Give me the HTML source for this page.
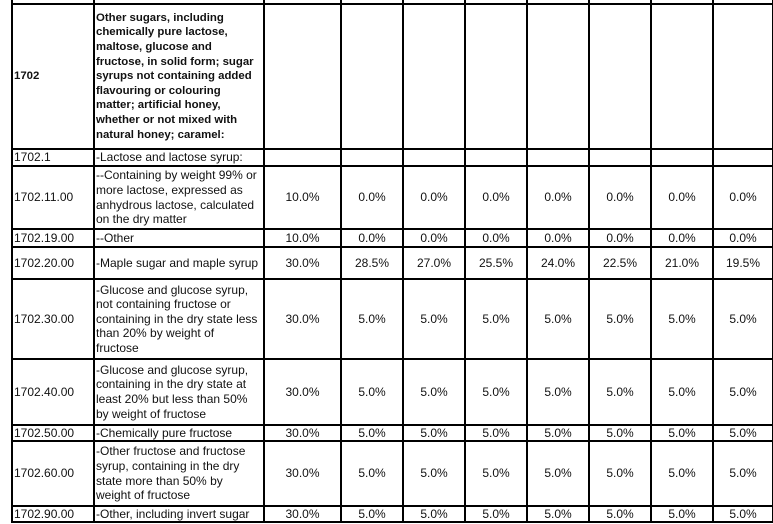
<!DOCTYPE html><html><head><style>
body{margin:0;width:773px;height:524px;background:#fff;position:relative;overflow:hidden;font-family:"Liberation Sans",Arial,sans-serif;font-size:12px;color:#111}
.h{position:absolute;left:11px;width:764px;height:2px;background:#000}
.v{position:absolute;top:0;height:523px;width:2px;background:#000}
.c{position:absolute;display:flex;align-items:center;line-height:14.6px}
.n{justify-content:center;text-align:center}
b{font-weight:bold;font-size:11.4px;white-space:nowrap}
</style></head><body>
<div class="h" style="top:3px"></div><div class="h" style="top:148px"></div><div class="h" style="top:165px"></div><div class="h" style="top:228px"></div><div class="h" style="top:246px"></div><div class="h" style="top:278px"></div><div class="h" style="top:358px"></div><div class="h" style="top:424px"></div><div class="h" style="top:440px"></div><div class="h" style="top:505px"></div><div class="h" style="top:521px"></div>
<div class="v" style="left:11px"></div><div class="v" style="left:93px"></div><div class="v" style="left:263px"></div><div class="v" style="left:340px"></div><div class="v" style="left:402px"></div><div class="v" style="left:464px"></div><div class="v" style="left:526px"></div><div class="v" style="left:588px"></div><div class="v" style="left:650px"></div><div class="v" style="left:712px"></div><div class="v" style="left:772px"></div>
<div id="g"></div>
<script>
var rows=[[5,148,'<b>1702</b>','<b>Other sugars, including<br>chemically pure lactose,<br>maltose, glucose and<br>fructose, in solid form; sugar<br>syrups not containing added<br>flavouring or colouring<br>matter; artificial honey,<br>whether or not mixed with<br>natural honey; caramel:</b>',null],
[150,165,'1702.1','-Lactose and lactose syrup:',null],
[167,228,'1702.11.00','--Containing by weight 99% or more lactose, expressed as anhydrous lactose, calculated on the dry matter',['10.0%','0.0%','0.0%','0.0%','0.0%','0.0%','0.0%','0.0%']],
[230,246,'1702.19.00','--Other',['10.0%','0.0%','0.0%','0.0%','0.0%','0.0%','0.0%','0.0%']],
[248,278,'1702.20.00','-Maple sugar and maple syrup',['30.0%','28.5%','27.0%','25.5%','24.0%','22.5%','21.0%','19.5%']],
[280,358,'1702.30.00','-Glucose and glucose syrup, not containing fructose or containing in the dry state less than 20% by weight of fructose',null],
[360,424,'1702.40.00','-Glucose and glucose syrup, containing in the dry state at least 20% but less than 50% by weight of fructose',null],
[426,440,'1702.50.00','-Chemically pure fructose',null],
[442,505,'1702.60.00','-Other fructose and fructose syrup, containing in the dry state more than 50% by weight of fructose',null],
[507,521,'1702.90.00','-Other, including invert sugar',null]];
var five=['30.0%','5.0%','5.0%','5.0%','5.0%','5.0%','5.0%','5.0%'];
var cols=[263,340,402,464,526,588,650,712,772];
var h='';
rows.forEach(function(r,i){var t=r[0],hh=r[1]-r[0];var v=r[4]||(i>=5?five:null);
h+='<div class="c" style="left:14px;top:'+t+'px;width:78px;height:'+hh+'px">'+r[2]+'</div>';
h+='<div class="c" style="left:96px;top:'+t+'px;width:163px;height:'+hh+'px">'+r[3]+'</div>';
if(v)for(var k=0;k<8;k++)h+='<div class="c n" style="left:'+(cols[k]+2)+'px;top:'+t+'px;width:'+(cols[k+1]-cols[k]-2)+'px;height:'+hh+'px">'+v[k]+'</div>';});
document.getElementById('g').innerHTML=h;
</script>
</body></html>
